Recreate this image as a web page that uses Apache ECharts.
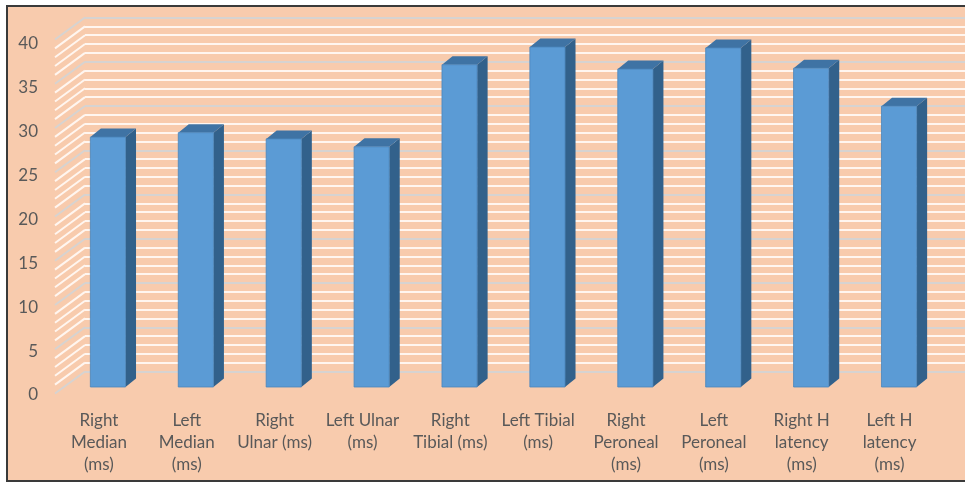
<!DOCTYPE html>
<html>
<head>
<meta charset="utf-8">
<script src="https://cdn.jsdelivr.net/npm/echarts@6/dist/echarts.min.js"></script>
<style>
  html, body { margin: 0; padding: 0; background: #ffffff; }
  #chart { width: 965px; height: 483px; }
</style>
</head>
<body>
<div id="chart"></div>
<script>
// Nerve conduction latencies per nerve and side
const categories = [
  'Right\nMedian\n(ms)', 'Left\nMedian\n(ms)', 'Right\nUlnar (ms)', 'Left Ulnar\n(ms)',
  'Right\nTibial (ms)', 'Left Tibial\n(ms)', 'Right\nPeroneal\n(ms)', 'Left\nPeroneal\n(ms)',
  'Right H\nlatency\n(ms)', 'Left H\nlatency\n(ms)'
];
const values = [28.3, 28.8, 28.1, 27.2, 36.5, 38.5, 36.0, 38.4, 36.1, 31.8];
const yMin = 0;
const yMax = 40;
const yStep = 5;
const minorPerStep = 5;

// Wall lines at every minor step (used for the slanted side wall)
const wallLevels = [];
for (let v = yMin; v <= yMax; v += yStep / minorPerStep) wallLevels.push(+v.toFixed(4));

const FONT = 'Lato';
const TEXT = '#595959';
const MAJOR_LINE = '#D6D3D1';
const MINOR_LINE = '#FFF6F0';
const FRONT = '#5B9BD5';
const TOP = '#3F73A4';
const SIDE = '#32618B';
const EDGE = '#4A85BB';
// depth of the side wall (back edge -> front edge) and of a bar
const WALL_DX = -30, WALL_DY = 22;
const BAR_DX = 10.5, BAR_DY = -8.5;
const BAR_RATIO = 0.4;

const chart = echarts.init(document.getElementById('chart'), null, { renderer: 'canvas' });

chart.setOption({
  backgroundColor: '#ffffff',
  animation: false,
  graphic: [{
    type: 'rect', z: -10, silent: true,
    shape: { x: 7, y: 6, width: 980, height: 475 },
    style: { fill: '#F8CBAD', stroke: '#3A3A3A', lineWidth: 2 }
  }],
  grid: [
    // back wall
    { left: 85, right: 0, top: 17.5, bottom: 111.5 },
    // plane the bars stand on
    { left: 64, right: 22, top: 33.8, bottom: 96 },
    // front edge: axis labels
    { left: 55, right: 31.5, top: 43.3, bottom: 88 }
  ],
  xAxis: [
    { gridIndex: 0, type: 'value', min: 0, max: 1, show: false },
    { gridIndex: 1, type: 'category', data: categories, show: false },
    {
      gridIndex: 2, type: 'category', data: categories,
      axisLine: { show: false }, axisTick: { show: false }, splitLine: { show: false },
      axisLabel: {
        interval: 0, margin: 15, color: TEXT, fontFamily: FONT, fontSize: 17,
        lineHeight: 22, verticalAlign: 'top'
      }
    }
  ],
  yAxis: [
    {
      gridIndex: 0, type: 'value', min: yMin, max: yMax, interval: yStep,
      axisLine: { show: false }, axisTick: { show: false }, axisLabel: { show: false },
      splitLine: { show: true, lineStyle: { color: MAJOR_LINE, width: 2 } },
      minorTick: { show: false, splitNumber: minorPerStep },
      minorSplitLine: { show: true, lineStyle: { color: MINOR_LINE, width: 2 } }
    },
    { gridIndex: 1, type: 'value', min: yMin, max: yMax, interval: yStep, show: false },
    {
      gridIndex: 2, type: 'value', min: yMin, max: yMax, interval: yStep,
      axisLine: { show: false }, axisTick: { show: false }, splitLine: { show: false },
      axisLabel: { margin: 17, color: TEXT, fontFamily: FONT, fontSize: 17 }
    }
  ],
  series: [
    {
      // slanted side wall lines, joined to the back wall lines
      type: 'custom', xAxisIndex: 0, yAxisIndex: 0, silent: true, z: 1,
      data: wallLevels.map(v => [0, v]),
      renderItem(params, api) {
        const v = api.value(1);
        const p = api.coord([0, v]);
        const major = Math.abs(v / yStep - Math.round(v / yStep)) < 1e-6;
        return {
          type: 'line',
          shape: { x1: p[0], y1: p[1], x2: p[0] + WALL_DX, y2: p[1] + WALL_DY },
          style: { stroke: major ? MAJOR_LINE : MINOR_LINE, lineWidth: 2 }
        };
      }
    },
    {
      // 3D columns
      type: 'custom', xAxisIndex: 1, yAxisIndex: 1, z: 5,
      data: values.map((v, i) => [i, v]),
      renderItem(params, api) {
        const i = api.value(0);
        const base = api.coord([i, 0]);
        const top = api.coord([i, api.value(1)]);
        const bw = api.size([1, 0])[0] * BAR_RATIO;
        const x0 = top[0] - bw / 2, x1 = top[0] + bw / 2;
        const yt = top[1], yb = base[1];
        return {
          type: 'group',
          children: [
            {
              type: 'polygon',
              shape: { points: [[x1, yt], [x1 + BAR_DX, yt + BAR_DY], [x1 + BAR_DX, yb + BAR_DY], [x1, yb]] },
              style: { fill: SIDE }
            },
            {
              type: 'polygon',
              shape: { points: [[x0, yt], [x0 + BAR_DX, yt + BAR_DY], [x1 + BAR_DX, yt + BAR_DY], [x1, yt]] },
              style: { fill: TOP }
            },
            {
              type: 'rect',
              shape: { x: x0, y: yt, width: bw, height: yb - yt },
              style: { fill: FRONT, stroke: EDGE, lineWidth: 0.8 }
            }
          ]
        };
      }
    }
  ]
});
</script>
</body>
</html>
